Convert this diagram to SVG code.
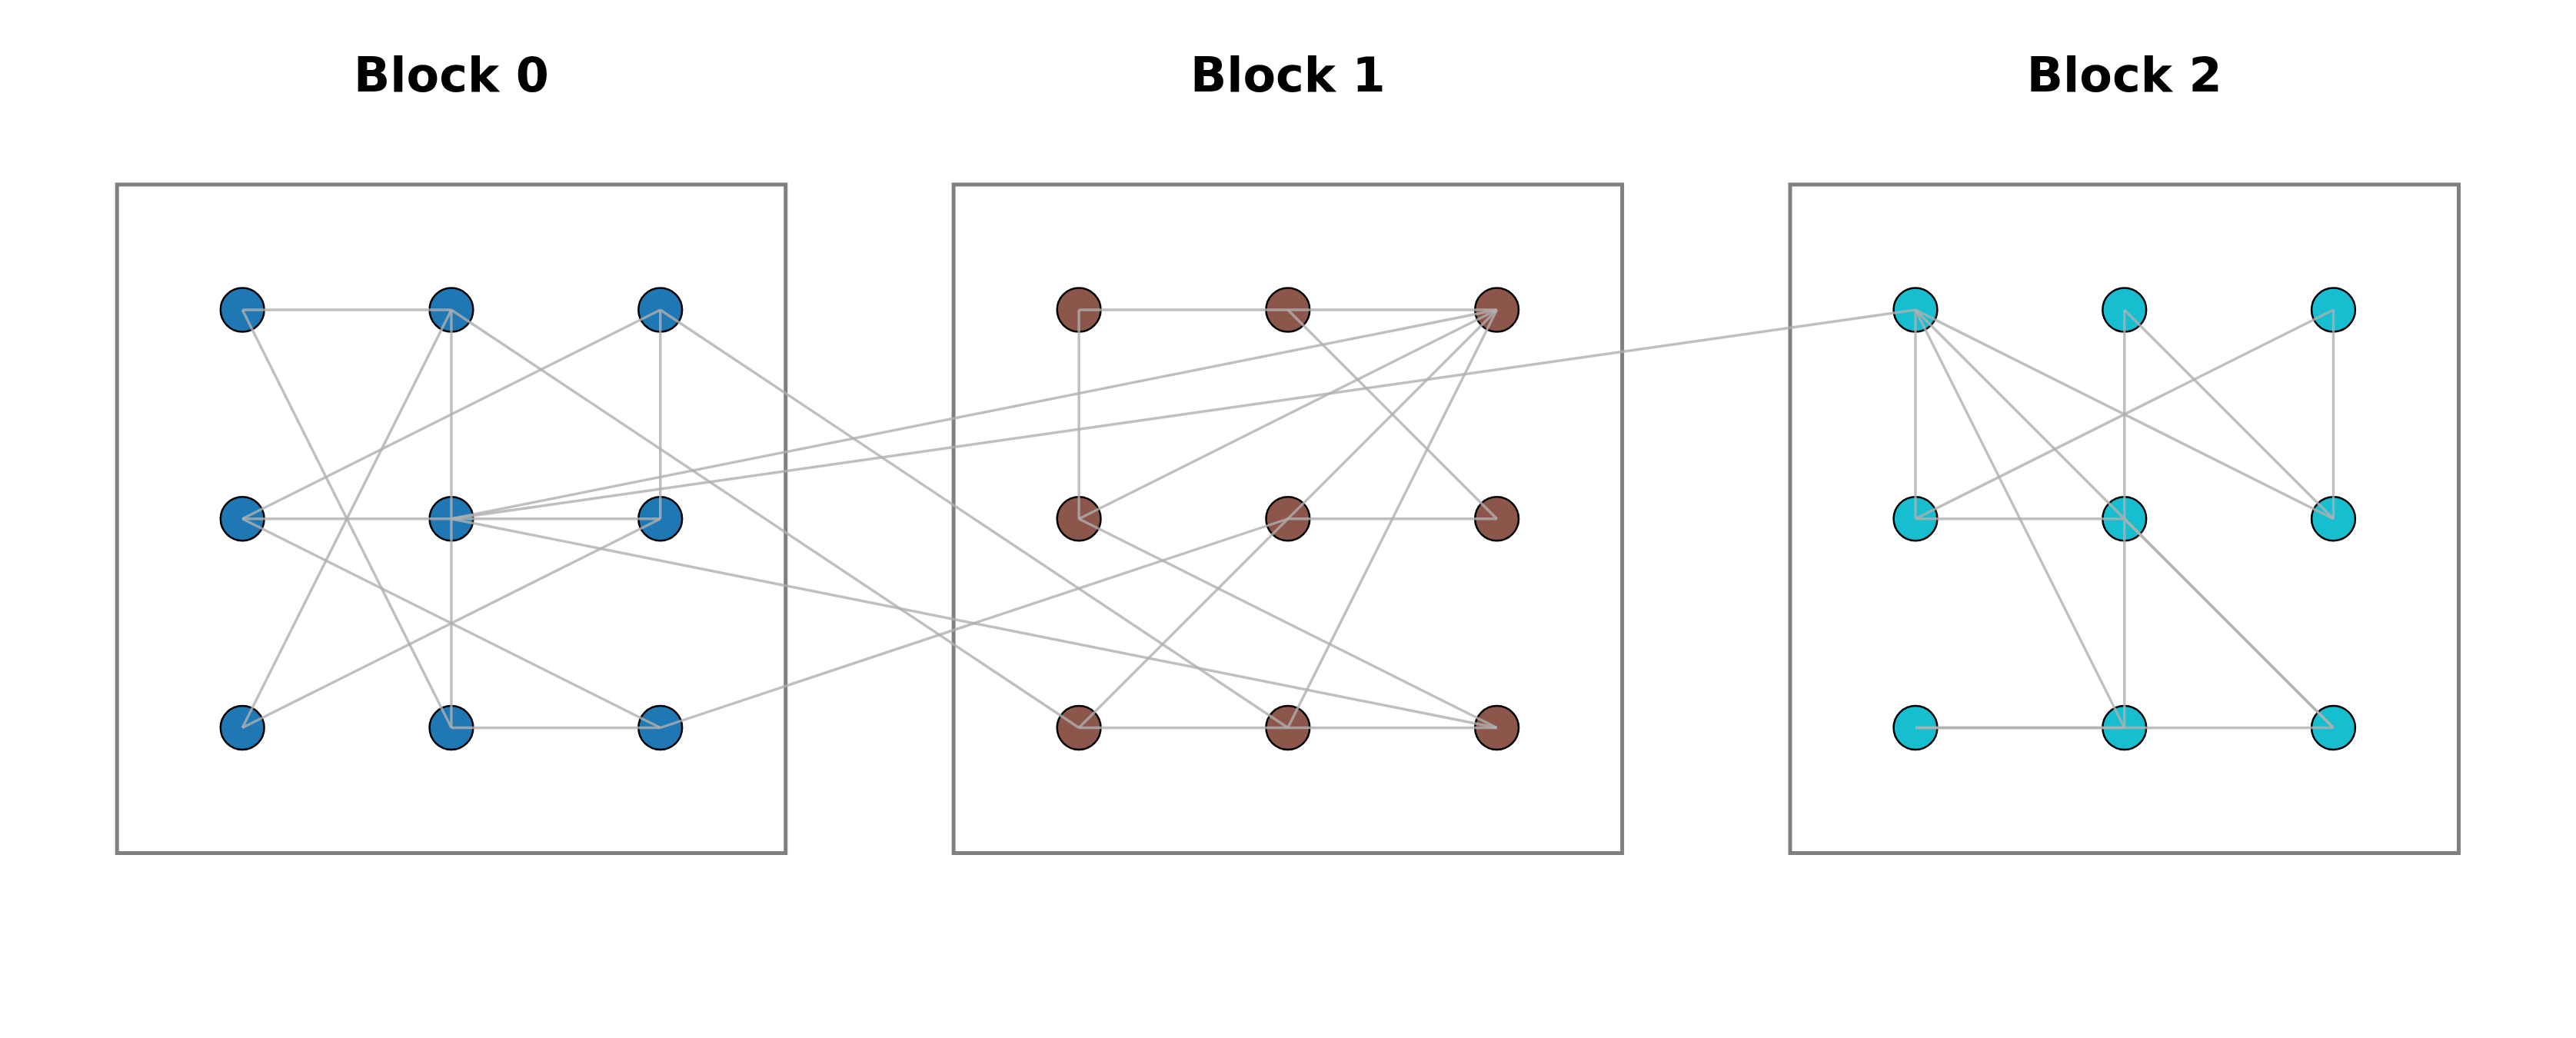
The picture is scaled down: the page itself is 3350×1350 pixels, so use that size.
<svg xmlns="http://www.w3.org/2000/svg" width="3350" height="1350" viewBox="0 0 3350 1350">
<style>
.box{fill:none;stroke:#808080;stroke-width:5}
.title{font-family:"DejaVu Sans","Liberation Sans",sans-serif;font-weight:bold;font-size:62px;text-anchor:middle;fill:#000}
.n{stroke:#000;stroke-width:2.5}
.b0{fill:#1f77b4}.b1{fill:#8c564b}.b2{fill:#17becf}
#connectors line{stroke:#afafaf;stroke-opacity:0.8;stroke-width:3.4;stroke-linecap:butt}
</style>
<rect width="3350" height="1350" fill="#fff"/>
<g id="block0">
<rect class="box" x="152.2" y="240" width="869.5" height="869.5"/>
<text class="title" x="587" y="119">Block 0</text>
</g>
<g id="block1">
<rect class="box" x="1240.1" y="240" width="869.5" height="869.5"/>
<text class="title" x="1674.85" y="119">Block 1</text>
</g>
<g id="block2">
<rect class="box" x="2328" y="240" width="869.5" height="869.5"/>
<text class="title" x="2762.75" y="119">Block 2</text>
</g>
<g id="nodes-b0">
<circle id="b0n00" class="n b0" cx="315.2" cy="403" r="28.4"/>
<circle id="b0n01" class="n b0" cx="586.95" cy="403" r="28.4"/>
<circle id="b0n02" class="n b0" cx="858.7" cy="403" r="28.4"/>
<circle id="b0n10" class="n b0" cx="315.2" cy="674.75" r="28.4"/>
<circle id="b0n11" class="n b0" cx="586.95" cy="674.75" r="28.4"/>
<circle id="b0n12" class="n b0" cx="858.7" cy="674.75" r="28.4"/>
<circle id="b0n20" class="n b0" cx="315.2" cy="946.5" r="28.4"/>
<circle id="b0n21" class="n b0" cx="586.95" cy="946.5" r="28.4"/>
<circle id="b0n22" class="n b0" cx="858.7" cy="946.5" r="28.4"/>
</g>
<g id="nodes-b1">
<circle id="b1n00" class="n b1" cx="1403.1" cy="403" r="28.4"/>
<circle id="b1n01" class="n b1" cx="1674.85" cy="403" r="28.4"/>
<circle id="b1n02" class="n b1" cx="1946.6" cy="403" r="28.4"/>
<circle id="b1n10" class="n b1" cx="1403.1" cy="674.75" r="28.4"/>
<circle id="b1n11" class="n b1" cx="1674.85" cy="674.75" r="28.4"/>
<circle id="b1n12" class="n b1" cx="1946.6" cy="674.75" r="28.4"/>
<circle id="b1n20" class="n b1" cx="1403.1" cy="946.5" r="28.4"/>
<circle id="b1n21" class="n b1" cx="1674.85" cy="946.5" r="28.4"/>
<circle id="b1n22" class="n b1" cx="1946.6" cy="946.5" r="28.4"/>
</g>
<g id="nodes-b2">
<circle id="b2n00" class="n b2" cx="2491" cy="403" r="28.4"/>
<circle id="b2n01" class="n b2" cx="2762.75" cy="403" r="28.4"/>
<circle id="b2n02" class="n b2" cx="3034.5" cy="403" r="28.4"/>
<circle id="b2n10" class="n b2" cx="2491" cy="674.75" r="28.4"/>
<circle id="b2n11" class="n b2" cx="2762.75" cy="674.75" r="28.4"/>
<circle id="b2n12" class="n b2" cx="3034.5" cy="674.75" r="28.4"/>
<circle id="b2n20" class="n b2" cx="2491" cy="946.5" r="28.4"/>
<circle id="b2n21" class="n b2" cx="2762.75" cy="946.5" r="28.4"/>
<circle id="b2n22" class="n b2" cx="3034.5" cy="946.5" r="28.4"/>
</g>
<g id="connectors">
<!-- block 0 -->
<line x1="315.2" y1="403" x2="586.95" y2="403"/>
<line x1="315.2" y1="403" x2="586.95" y2="946.5"/>
<line x1="586.95" y1="403" x2="315.2" y2="946.5"/>
<line x1="586.95" y1="403" x2="586.95" y2="946.5"/>
<line x1="858.7" y1="403" x2="315.2" y2="674.75"/>
<line x1="858.7" y1="403" x2="858.7" y2="674.75"/>
<line x1="315.2" y1="674.75" x2="858.7" y2="674.75"/>
<line x1="315.2" y1="674.75" x2="858.7" y2="946.5"/>
<line x1="858.7" y1="674.75" x2="315.2" y2="946.5"/>
<line x1="586.95" y1="946.5" x2="858.7" y2="946.5"/>
<!-- cross-block -->
<line x1="586.95" y1="403" x2="1403.1" y2="946.5"/>
<line x1="858.7" y1="403" x2="1674.85" y2="946.5"/>
<line x1="858.7" y1="946.5" x2="1674.85" y2="674.75"/>
<line x1="586.95" y1="674.75" x2="1946.6" y2="403"/>
<line x1="586.95" y1="674.75" x2="1946.6" y2="946.5"/>
<line x1="586.95" y1="674.75" x2="2491" y2="403"/>
<!-- block 1 -->
<line x1="1403.1" y1="403" x2="1946.6" y2="403"/>
<line x1="1403.1" y1="403" x2="1403.1" y2="674.75"/>
<line x1="1674.85" y1="403" x2="1946.6" y2="674.75"/>
<line x1="1946.6" y1="403" x2="1403.1" y2="674.75"/>
<line x1="1946.6" y1="403" x2="1403.1" y2="946.5"/>
<line x1="1946.6" y1="403" x2="1674.85" y2="946.5"/>
<line x1="1674.85" y1="674.75" x2="1946.6" y2="674.75"/>
<line x1="1403.1" y1="674.75" x2="1946.6" y2="946.5"/>
<line x1="1403.1" y1="946.5" x2="1946.6" y2="946.5"/>
<!-- block 2 -->
<line x1="2491" y1="403" x2="2491" y2="674.75"/>
<line x1="2491" y1="403" x2="3034.5" y2="674.75"/>
<line x1="2491" y1="403" x2="2762.75" y2="946.5"/>
<line x1="2491" y1="403" x2="3034.5" y2="946.5"/>
<line x1="2762.75" y1="674.75" x2="3034.5" y2="946.5"/>
<line x1="2762.75" y1="403" x2="2762.75" y2="946.5"/>
<line x1="2762.75" y1="403" x2="3034.5" y2="674.75"/>
<line x1="3034.5" y1="403" x2="2491" y2="674.75"/>
<line x1="3034.5" y1="403" x2="3034.5" y2="674.75"/>
<line x1="2491" y1="674.75" x2="2762.75" y2="674.75"/>
<line x1="2491" y1="946.5" x2="3034.5" y2="946.5"/>
<line x1="2491" y1="946.5" x2="2762.75" y2="946.5"/>
</g>
</svg>
